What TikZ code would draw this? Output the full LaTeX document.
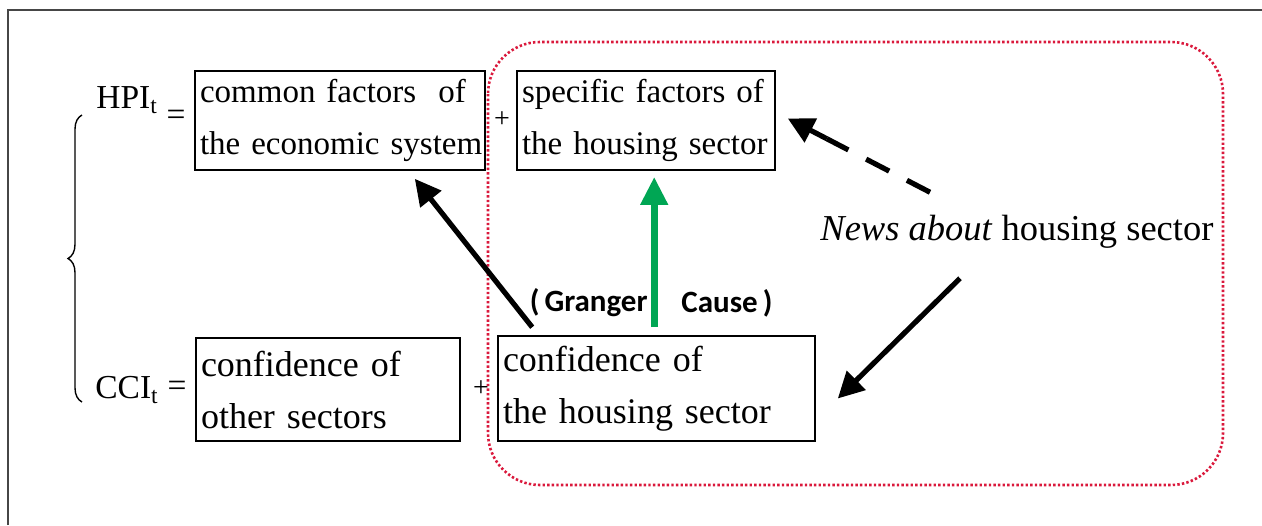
\documentclass[tikz,border=0pt]{standalone}
\usepackage{fontspec}
\setmainfont{Liberation Serif}
\newfontfamily\gfont{Carlito}
\usetikzlibrary{arrows.meta,decorations.pathreplacing,calc}
\definecolor{dotred}{RGB}{218,25,60}
\definecolor{arrgreen}{RGB}{0,166,84}
\definecolor{framegray}{RGB}{70,70,70}
\begin{document}
\begin{tikzpicture}[x=0.5pt,y=-0.5pt,
  fbox/.style={draw, line width=0.8pt, rectangle, align=left, inner sep=2.5pt,
    font=\fontsize{16.5}{26}\selectfont},
  fboxl/.style={fbox, font=\fontsize{18}{26}\selectfont},
  plain/.style={inner sep=0pt, font=\fontsize{16.75}{20}\selectfont},
  arr/.style={line width=2.6pt, -{Triangle[length=13pt,width=13pt]}},
  garr/.style={line width=3.6pt, arrgreen, -{Triangle[length=14pt,width=13pt]}},
  dline/.style={line width=2.6pt, dash pattern=on 13pt off 10pt},
  redbox/.style={dotred, line width=1.3pt, dash pattern=on 1.2pt off 1.1pt, rounded corners=26pt},
  gtext/.style={inner sep=0pt, font=\gfont\bfseries\fontsize{15.5}{18}\selectfont}
]
\useasboundingbox (0,0) rectangle (1262,525);
% outer frame (top and left only)
\draw[framegray, line width=1pt] (8,525) -- (8,10) -- (1262,10);

% brace
\draw[decorate, decoration={brace, amplitude=7pt}, line width=0.7pt] (82,402) -- (82,115);

% left-hand sides
\node[plain, anchor=base west] (hpi) at (96,108) {HPI\textsubscript{t}};
\node[plain] (eq1) at (176,118) {=};
\node[plain, anchor=base west] (cci) at (95,398) {CCI\textsubscript{t}};
\node[plain] (eq2) at (177,389) {=};

% boxes
\node[fbox, inner xsep=0pt, text width=145pt, minimum height=49.5pt] (box1) at (340,120.5)
  {\hspace*{2.5pt}common factors\ \ of\\\hspace*{2.5pt}the economic system};
\node[fbox, text width=124pt, minimum height=49.5pt] (box2) at (646,120.5)
  {specific factors of\\the housing sector};
\node[fboxl, text width=127pt, minimum height=51.5pt] (box3) at (328,389.5)
  {confidence of\\other sectors};
\node[fboxl, text width=153.5pt, minimum height=52.5pt] (box4) at (656.5,388.5)
  {confidence of\\the housing sector};

% plus signs
\node[plain, font=\fontsize{14}{16}\selectfont] (plus1) at (502,120) {+};
\node[plain, font=\fontsize{14}{16}\selectfont] (plus2) at (481,389) {+};

% red dotted rounded region
\draw[redbox] (488,42) rectangle (1223,485);

% news text
\node[inner sep=0pt, anchor=base west, font=\fontsize{18.25}{22}\selectfont] (news) at (820,240)
  {\textit{News about} housing sector};

% Granger cause label
\node[gtext, anchor=east] (granger) at (648,303) {(\,Granger};
\node[gtext, anchor=west] (cause) at (681,303) {Cause\,)};

% arrows
\coordinate (a1s) at ($(box4.north west)+(35,-8)$);
\coordinate (a1e) at ($(box1.south east)+(-71,8)$);
\draw[arr] (a1s) -- (a1e);

\coordinate (gs) at ($(box4.north west)+(157,-8)$);
\coordinate (ge) at ($(box2.south west)+(138,6)$);
\draw[garr] (gs) -- (ge);

\coordinate (ds) at ($(news.north west)+(110,-22)$);
\coordinate (de) at ($(box2.east)+(12,-2)$);
\coordinate (dm) at ($(de)!22pt!(ds)$);
\draw[dline] (ds) -- (dm);
\draw[arr] (dm) -- (de);

\coordinate (ss) at ($(news.south west)+(140,30)$);
\coordinate (se) at ($(box4.east)+(22,10)$);
\draw[arr] (ss) -- (se);
\end{tikzpicture}
\end{document}
